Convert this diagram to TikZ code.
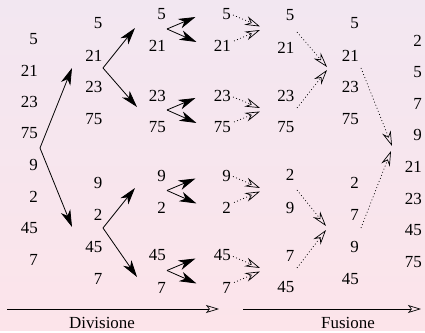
\documentclass[tikz,border=0pt]{standalone}
\usepackage{fontspec}
\setmainfont{Liberation Serif}
\usetikzlibrary{arrows.meta,positioning,calc}
\definecolor{bgTop}{RGB}{242,231,241}
\definecolor{bgBot}{RGB}{252,228,234}

\begin{document}
\begin{tikzpicture}[x=1bp,y=-1bp,
  font=\fontsize{17}{20}\selectfont,
  num/.style={anchor=east,inner sep=0pt},
  ar/.style={-{Stealth[length=17bp,width=10bp,inset=5bp]},line width=0.8bp},
  dar/.style={-{Stealth[open,length=15bp,width=9bp,inset=5bp]},line width=0.7bp,
              dash pattern=on 0.9bp off 2.4bp},
  axis/.style={-{Stealth[open,length=13bp,width=8bp,inset=3bp]},line width=0.7bp}]

\fill[top color=bgTop,bottom color=bgBot] (0,0) rectangle (425,331);

% columns of numbers
\foreach \v [count=\i] in {5,21,23,75,9,2,45,7}
  \node[num] (a\i) at (38,{39+31.5*(\i-1)}) {\v};
\foreach \v/\y [count=\i] in {5/23.5,21/55.4,23/87.3,75/119.2,9/183,2/215,45/247,7/279}
  \node[num] (b\i) at (102.5,\y) {\v};
\foreach \v/\y [count=\i] in {5/14,21/46,23/96,75/127,9/175.5,2/207.5,45/255.5,7/287.5}
  \node[num] (c\i) at (166,\y) {\v};
\foreach \v/\y [count=\i] in {5/14,21/46,23/96,75/127,9/175.5,2/207.5,45/255.5,7/287.5}
  \node[num] (d\i) at (231,\y) {\v};
\foreach \v/\y [count=\i] in {5/15.5,21/47.5,23/96,75/127.5,2/175,9/207.5,7/255.5,45/287.5}
  \node[num] (e\i) at (294.5,\y) {\v};
\foreach \v/\y [count=\i] in {5/23.5,21/55.4,23/87.3,75/119.2,2/183,7/215,9/247,45/279}
  \node[num] (f\i) at (359,\y) {\v};
\foreach \v [count=\i] in {2,5,7,9,21,23,45,75}
  \node[num] (g\i) at (422,{40.5+31.6*(\i-1)}) {\v};

% division
\coordinate (s1) at (40,148);
\coordinate (s1u) at (72,68);
\coordinate (s1d) at (72,227);
\coordinate (s2) at (103,68);
\coordinate (s2u) at (135,28);
\coordinate (s2d) at (137,107);
\coordinate (s3) at (103,228);
\coordinate (s3u) at (135,188);
\coordinate (s3d) at (137,277);
\draw[ar] (s1) -- (s1u);
\draw[ar] (s1) -- (s1d);
\draw[ar] (s2) -- (s2u);
\draw[ar] (s2) -- (s2d);
\draw[ar] (s3) -- (s3u);
\draw[ar] (s3) -- (s3d);

% comparisons
\foreach \m [count=\k] in {30,111,191.5,271.5} {
  \coordinate (w\k) at (167,\m-1);
  \coordinate (wu\k) at (195.5,\m-13);
  \coordinate (wd\k) at (196.5,\m+12);
  \draw[ar] (w\k) -- (wu\k);
  \draw[ar] (w\k) -- (wd\k);
}

% merging
\foreach \t/\b/\m [count=\k] in {14/46/30,96/127/111.5,175.5/207.5/191.5,255.5/287.5/271.5} {
  \coordinate (mt\k) at (233,\t+1);
  \coordinate (mb\k) at (234,\b-5);
  \coordinate (mu\k) at (260,\m-3.5);
  \coordinate (md\k) at (260,\m);
  \draw[dar] (mt\k) -- (mu\k);
  \draw[dar] (mb\k) -- (md\k);
}
\coordinate (p1) at (297,32);
\coordinate (p2) at (297,108);
\coordinate (p1e) at (327,67);
\coordinate (p2e) at (327,70);
\coordinate (q1) at (297,190);
\coordinate (q2) at (297,268);
\coordinate (q1e) at (326,226);
\coordinate (q2e) at (326,230);
\draw[dar] (p1) -- (p1e);
\draw[dar] (p2) -- (p2e);
\draw[dar] (q1) -- (q1e);
\draw[dar] (q2) -- (q2e);
\coordinate (r1) at (361,68);
\coordinate (r2) at (361,228);
\coordinate (r1e) at (392,146);
\coordinate (r2e) at (391,151);
\draw[dar] (r1) -- (r1e);
\draw[dar] (r2) -- (r2e);

% axes
\coordinate (dL) at (7,309);
\coordinate (dR) at (219,309);
\coordinate (fL) at (243,309);
\coordinate (fR) at (421,309);
\draw[axis] (dL) -- (dR);
\draw[axis] (fL) -- (fR);
\node[anchor=base] (div) at (102,329) {Divisione};
\node[anchor=base] (fus) at (348,329) {Fusione};
\end{tikzpicture}
\end{document}
